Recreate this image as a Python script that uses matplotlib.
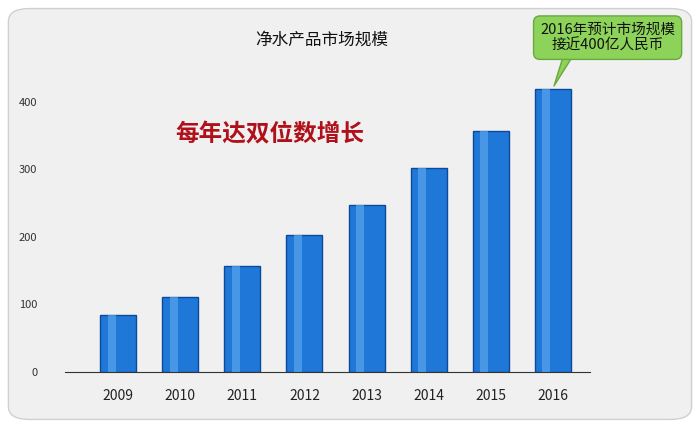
import matplotlib.pyplot as plt
import numpy as np
from matplotlib.patches import FancyBboxPatch

plt.rcParams['font.family'] = ['Noto Sans CJK SC', 'DejaVu Sans']

years = ['2009', '2010', '2011', '2012', '2013', '2014', '2015', '2016']
values = [84, 111, 157, 203, 247, 302, 357, 419]
yticks = [0, 100, 200, 300, 400]

fig = plt.figure(figsize=(7, 4.28), dpi=100)
fig.patch.set_facecolor('white')

# rounded panel background, kept behind the axes
bg = FancyBboxPatch((0.012, 0.02), 0.976, 0.96, boxstyle='round,pad=0,rounding_size=0.03',
                    transform=fig.transFigure, facecolor='#f0f0f0', edgecolor='#d0d0d0',
                    lw=1, zorder=-10)
fig.patches.append(bg)

ax = fig.add_axes([0.093, 0.131, 0.75, 0.678])
ax.set_facecolor('none')
x = np.arange(len(years))
w = 0.58
ax.bar(x, values, width=w, color='#1f77d8', edgecolor='#0b4a9a', lw=1, zorder=2)
# highlight strip for gradient look
ax.bar(x - w * 0.18, values, width=w * 0.22, color='#5aa6ee', lw=0, zorder=3, alpha=0.7)

ax.set_xlim(-0.855, 7.6)
ax.set_ylim(0, 430)
ax.set_yticks(yticks)
ax.set_yticklabels([str(v) for v in yticks], fontsize=8, color='#333333')
ax.set_xticks(x)
ax.set_xticklabels(years, fontsize=10, color='#222222')
ax.tick_params(axis='both', length=0, pad=12)
ax.tick_params(axis='y', pad=20)
for s in ['top', 'right', 'left']:
    ax.spines[s].set_visible(False)
ax.spines['bottom'].set_color('#333333')

fig.text(0.46, 0.905, '净水产品市场规模', ha='center', va='center', fontsize=12, color='#111111')
fig.text(0.385, 0.685, '每年达双位数增长', ha='center', va='center', fontsize=17,
         color='#b0101a', fontweight='bold')

# green callout
fig.text(0.868, 0.912, '2016年预计市场规模\n接近400亿人民币', ha='center', va='center',
         fontsize=10.5, color='#111111', linespacing=1.2,
         bbox=dict(boxstyle='round,pad=0.45', facecolor='#8dd35a', edgecolor='#6aa83e'))
ax.annotate('', xy=(7, 420), xytext=(7.25, 470), annotation_clip=False,
            arrowprops=dict(arrowstyle='wedge,tail_width=0.6', facecolor='#8dd35a',
                            edgecolor='#6aa83e'))

fig.savefig('out.png', dpi=100)
